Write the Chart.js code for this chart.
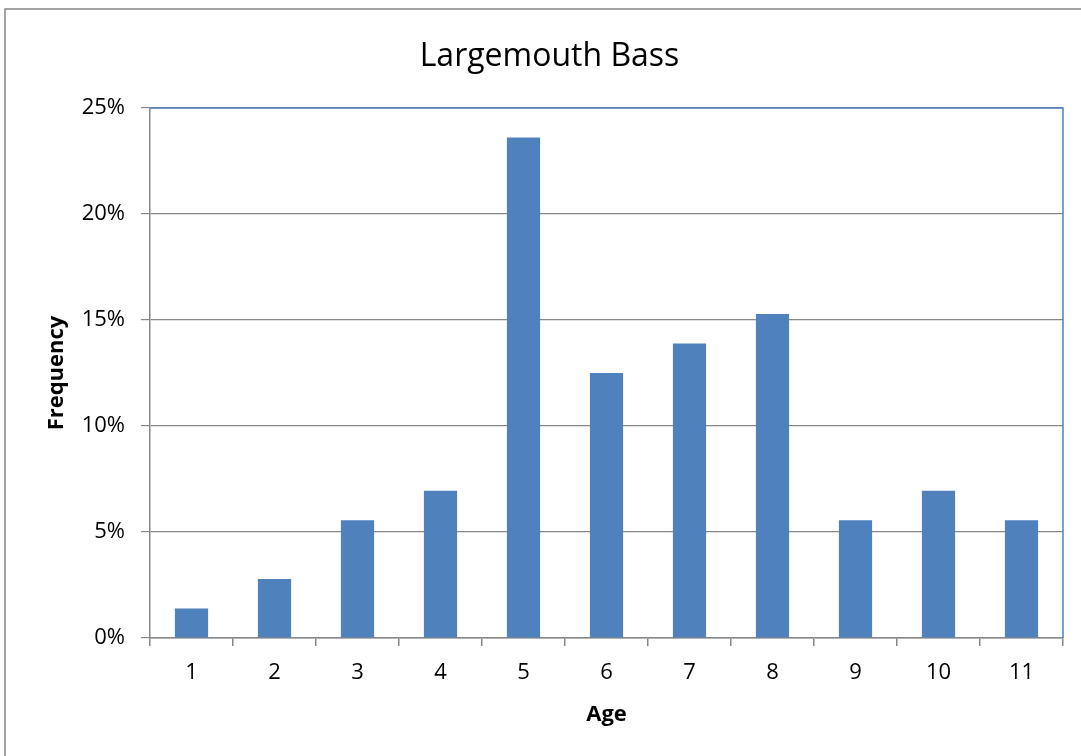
<!DOCTYPE html>
<html>
<head>
<meta charset="utf-8">
<script src="https://cdn.jsdelivr.net/npm/chart.js@4"></script>
<style>
  html, body { margin: 0; padding: 0; background: #fff; }
  #wrap { width: 1081px; height: 756px; position: relative; }
</style>
</head>
<body>
<div id="wrap"><canvas id="chart"></canvas></div>
<script>
// data
const ages = ['1', '2', '3', '4', '5', '6', '7', '8', '9', '10', '11'];
const frequency = [0.0139, 0.0278, 0.0556, 0.0694, 0.2361, 0.125, 0.1389, 0.1528, 0.0556, 0.0694, 0.0556];
const yTicks = [0, 0.05, 0.10, 0.15, 0.20, 0.25];

const FONT = "'Open Sans', 'Liberation Sans', sans-serif";

// outer frame + blue plot-area edge (top and right)
const framePlugin = {
    id: 'frame',
    beforeDraw(chart) {
        const ctx = chart.ctx;
        ctx.save();
        ctx.fillStyle = '#fff';
        ctx.fillRect(0, 0, chart.width, chart.height);
        ctx.restore();
    },
    afterDraw(chart) {
        const ctx = chart.ctx;
        const a = chart.chartArea;
        ctx.save();
        ctx.strokeStyle = '#878787';
        ctx.lineWidth = 1.5;
        ctx.strokeRect(5, 9, chart.width + 20, chart.height + 20);
        ctx.strokeStyle = '#4F81BD';
        ctx.lineWidth = 1.5;
        ctx.beginPath();
        ctx.moveTo(a.left, a.top);
        ctx.lineTo(a.right, a.top);
        ctx.lineTo(a.right, a.bottom);
        ctx.stroke();
        ctx.restore();
    }
};

new Chart(document.getElementById('chart'), {
    type: 'bar',
    data: {
        labels: ages,
        datasets: [{
            label: 'Frequency',
            data: frequency,
            backgroundColor: '#4F81BD',
            borderWidth: 0,
            barPercentage: 0.4,
            categoryPercentage: 1.0,
        }],
    },
    options: {
        responsive: true,
        maintainAspectRatio: false,
        animation: false,
        layout: { padding: { left: 36, right: 18, top: 0, bottom: 0 } },
        plugins: {
            legend: { display: false },
            tooltip: { enabled: false },
            title: {
                display: true,
                text: 'Largemouth Bass',
                color: '#000',
                font: { family: FONT, size: 32, weight: 'normal', lineHeight: 1.2 },
                padding: { top: 38, bottom: 31.6 },
            },
        },
        scales: {
            x: {
                grid: {
                    offset: true,
                    drawOnChartArea: false,
                    tickLength: 8,
                    color: '#878787',
                    lineWidth: 1.5,
                },
                border: { color: '#878787', width: 1.5 },
                ticks: {
                    color: '#000',
                    padding: 14,
                    maxRotation: 0,
                    font: { family: FONT, size: 22 },
                },
                title: {
                    display: true,
                    text: 'Age',
                    color: '#000',
                    font: { family: FONT, size: 22, weight: 'bold', lineHeight: 1.2 },
                    padding: { top: 0, bottom: 28 },
                },
                afterFit(scale) { scale.height = 118; },
            },
            y: {
                min: 0,
                max: 0.25,
                afterBuildTicks(scale) {
                    scale.ticks = yTicks.map(v => ({ value: v }));
                },
                grid: {
                    color: '#878787',
                    lineWidth: 1.2,
                    tickLength: 9,
                },
                border: { color: '#878787', width: 1.5 },
                ticks: {
                    color: '#000',
                    padding: 16,
                    font: { family: FONT, size: 22 },
                    callback: v => Math.round(v * 100) + '%',
                },
                title: {
                    display: true,
                    text: 'Frequency',
                    color: '#000',
                    font: { family: FONT, size: 22, weight: 'bold', lineHeight: 1.2 },
                    padding: { top: 8, bottom: 0 },
                },
                afterFit(scale) { scale.width = 114; },
            },
        },
    },
    plugins: [framePlugin],
});
</script>
</body>
</html>
